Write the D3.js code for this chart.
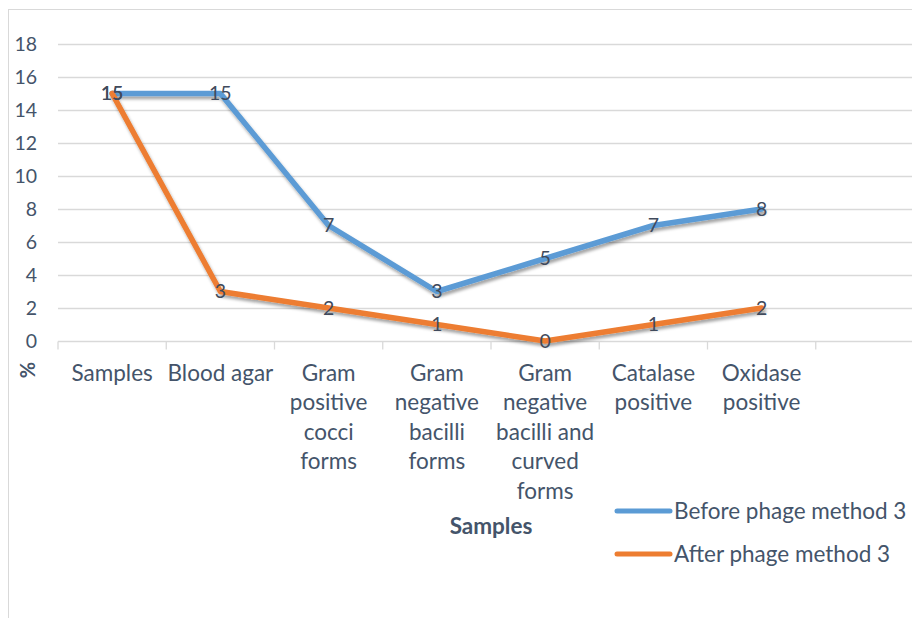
<!DOCTYPE html>
<html lang="en">
<head>
<meta charset="UTF-8">
<title>Before / after phage method 3</title>
<script src="https://d3js.org/d3.v7.min.js"></script>
<style>
  body { margin: 0; background: #fff; }
  svg { display: block; font-family: Lato, "Open Sans", sans-serif; }
  .tick text { fill: #44546a; }
</style>
</head>
<body>
<svg width="912" height="618"></svg>
<script>
// categories (each label already split into its wrapped lines), last slot empty
const categories = [
  ["Samples"],
  ["Blood agar"],
  ["Gram", "positive", "cocci", "forms"],
  ["Gram", "negative", "bacilli", "forms"],
  ["Gram", "negative", "bacilli and", "curved", "forms"],
  ["Catalase", "positive"],
  ["Oxidase", "positive"],
  [""]
];
const beforeValues = [15, 15, 7, 3, 5, 7, 8];
const afterValues = [15, 3, 2, 1, 0, 1, 2];
const yTicks = [0, 2, 4, 6, 8, 10, 12, 14, 16, 18];
const seriesNames = ["Before phage method 3", "After phage method 3"];
const colors = ["#5b9bd5", "#ed7d31"];

const svg = d3.select("svg");
const textColor = "#44546a";
const wordSize = 22.5;   // letters look bigger than digits (Calibri vs Lato)
const digitSize = 19.5;

// chart frame
svg.append("rect")
  .attr("x", 8.5).attr("y", 9.5)
  .attr("width", 1000).attr("height", 700)
  .attr("fill", "none").attr("stroke", "#d9d9d9");

const plotLeft = 58, plotRight = 924, plotTop = 44, plotBottom = 341;

const x = d3.scaleBand()
  .domain(d3.range(categories.length))
  .range([plotLeft, plotRight]);

const y = d3.scaleLinear().domain([0, 18]).range([plotBottom, plotTop]);

// gridlines
svg.append("g")
  .selectAll("line")
  .data(yTicks.filter(d => d > 0))
  .join("line")
  .attr("x1", plotLeft).attr("x2", plotRight)
  .attr("y1", d => y(d) + 0.5).attr("y2", d => y(d) + 0.5)
  .attr("stroke", "#d9d9d9").attr("stroke-width", 1.3);

// y axis labels
const yAxis = svg.append("g")
  .attr("transform", `translate(${plotLeft},0)`)
  .call(d3.axisLeft(y).tickValues(yTicks).tickSize(0).tickPadding(21));
yAxis.select(".domain").remove();
yAxis.selectAll("text").attr("font-size", digitSize).attr("font-family", "Lato, sans-serif");

// x axis
const xAxis = svg.append("g")
  .attr("transform", `translate(0,${plotBottom + 0.5})`);
xAxis.append("line")
  .attr("x1", plotLeft).attr("x2", plotRight)
  .attr("stroke", "#d9d9d9").attr("stroke-width", 1.3);
xAxis.selectAll("line.tk")
  .data(d3.range(categories.length + 1))
  .join("line")
  .attr("class", "tk")
  .attr("x1", d => plotLeft + d * x.step()).attr("x2", d => plotLeft + d * x.step())
  .attr("y1", 0).attr("y2", 8)
  .attr("stroke", "#d9d9d9").attr("stroke-width", 1.3);

const labels = xAxis.selectAll("text.cat")
  .data(categories)
  .join("text")
  .attr("class", "cat")
  .attr("text-anchor", "middle")
  .attr("font-size", wordSize)
  .attr("fill", textColor)
  .attr("transform", (d, i) => `translate(${x(i) + x.bandwidth() / 2},39)`);
labels.selectAll("tspan")
  .data(d => d)
  .join("tspan")
  .attr("x", 0)
  .attr("y", (d, i) => i * 29.5)
  .text(d => d);

// axis titles
svg.append("text")
  .attr("x", 491).attr("y", 534)
  .attr("text-anchor", "middle")
  .attr("font-size", wordSize).attr("font-weight", "bold")
  .attr("fill", textColor)
  .text("Samples");

svg.append("text")
  .attr("transform", "translate(35,370) rotate(-90)")
  .attr("text-anchor", "middle")
  .attr("font-size", 20).attr("font-weight", "bold")
  .attr("fill", textColor)
  .text("%");

// shadow filter
const defs = svg.append("defs");
const f = defs.append("filter").attr("id", "shadow")
  .attr("x", "-10%").attr("y", "-10%").attr("width", "120%").attr("height", "130%");
f.append("feDropShadow")
  .attr("dx", 1.5).attr("dy", 3).attr("stdDeviation", 1.8)
  .attr("flood-color", "#000").attr("flood-opacity", 0.35);

const line = d3.line()
  .x((d, i) => x(i) + x.bandwidth() / 2)
  .y(d => y(d));

const series = [beforeValues, afterValues];
series.forEach((vals, s) => {
  svg.append("path")
    .datum(vals)
    .attr("d", line)
    .attr("fill", "none")
    .attr("stroke", colors[s])
    .attr("stroke-width", 5.5)
    .attr("stroke-linejoin", "round")
    .attr("stroke-linecap", "round")
    .attr("filter", "url(#shadow)");
});

// data labels, centered on points
series.forEach((vals, s) => {
  svg.append("g")
    .selectAll("text")
    .data(vals)
    .join("text")
    .attr("x", (d, i) => x(i) + x.bandwidth() / 2)
    .attr("y", d => y(d))
    .attr("dy", "0.35em")
    .attr("text-anchor", "middle")
    .attr("font-size", digitSize)
    .attr("fill", "#404a5c")
    .text(d => d);
});

// legend
const legend = svg.append("g").attr("transform", "translate(617,511)");
seriesNames.forEach((name, i) => {
  const g = legend.append("g").attr("transform", `translate(0,${i * 43})`);
  g.append("line")
    .attr("x1", 0).attr("x2", 53)
    .attr("stroke", colors[i]).attr("stroke-width", 5)
    .attr("stroke-linecap", "round");
  g.append("text")
    .attr("x", 57).attr("dy", "0.35em")
    .attr("font-size", wordSize).attr("fill", textColor)
    .text(name);
});
</script>
</body>
</html>
